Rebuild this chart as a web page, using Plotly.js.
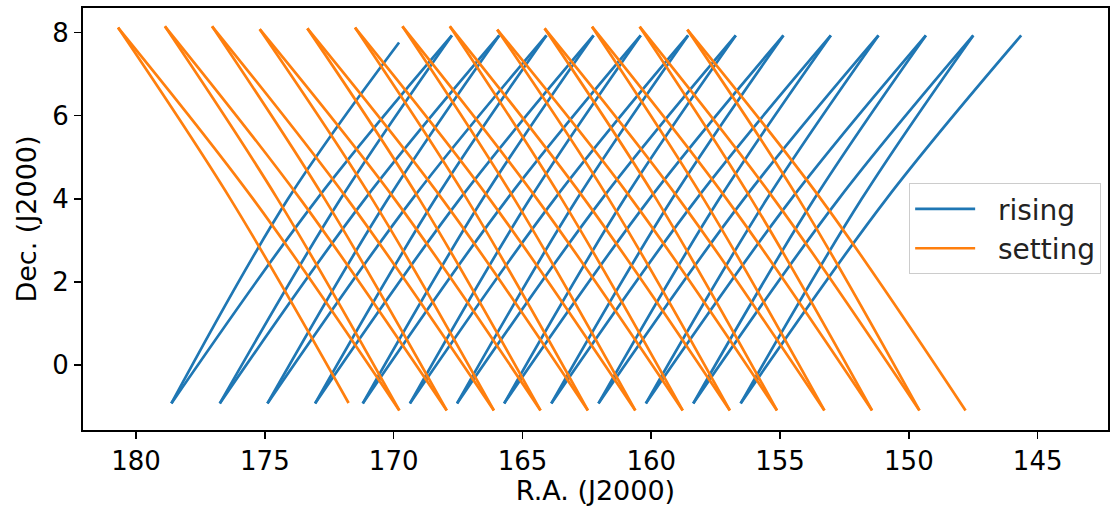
<!DOCTYPE html>
<html><head><meta charset="utf-8">
<script src="https://cdn.plot.ly/plotly-3.0.1.min.js"></script>
<style>html,body{margin:0;padding:0;background:#fff}#chart{width:1111px;height:506px}</style>
</head><body><div id="chart"></div>
<script>
// Dec at which the mid-stroke R.A. values were read
const MID_DEC = 4.0;

// ---- rising (zig-zag: top0 -> bottom0 -> top1 -> bottom1 -> ... -> top13)
const risingTopRA   = [169.79, 167.74, 165.90, 164.07, 162.24, 160.41, 158.57, 156.72, 154.87, 153.03, 151.18, 149.34, 147.50, 145.64];
const risingTopDec  = [7.76, 7.93, 7.93, 7.93, 7.93, 7.93, 7.93, 7.93, 7.93, 7.93, 7.93, 7.93, 7.93, 7.93];
const risingBotRA   = [178.63, 176.75, 174.90, 173.05, 171.20, 169.37, 167.54, 165.71, 163.88, 162.05, 160.21, 158.37, 156.53];
const risingBotDec  = [-0.92, -0.92, -0.92, -0.92, -0.92, -0.92, -0.92, -0.92, -0.92, -0.92, -0.92, -0.92, -0.92];
const risingDownMidRA = [174.10, 172.06, 170.22, 168.38, 166.54, 164.71, 162.88, 161.04, 159.19, 157.36, 155.51, 153.67, 151.83];
const risingUpMidRA   = [172.97, 171.11, 169.27, 167.43, 165.59, 163.75, 161.91, 160.07, 158.24, 156.40, 154.56, 152.72, 150.87];

// ---- setting (zig-zag: bottom0 -> top0 -> bottom1 -> top1 -> ... -> bottom13)
const settingTopRA  = [180.70, 178.88, 177.05, 175.20, 173.35, 171.50, 169.66, 167.82, 165.98, 164.14, 162.30, 160.45, 158.60];
const settingTopDec = [8.12, 8.15, 8.15, 8.08, 8.10, 8.12, 8.15, 8.15, 8.07, 8.10, 8.14, 8.14, 8.07];
const settingBotRA  = [171.75, 169.78, 167.94, 166.11, 164.30, 162.46, 160.62, 158.78, 156.95, 155.12, 153.28, 151.43, 149.59, 147.80];
const settingBotDec = [-0.91, -1.09, -1.09, -1.09, -1.09, -1.09, -1.09, -1.09, -1.09, -1.09, -1.09, -1.09, -1.09, -1.09];
const settingShortMidRA = [176.34, 174.51, 172.68, 170.84, 169.01, 167.16, 165.32, 163.48, 161.65, 159.81, 157.97, 156.12, 154.28];
const settingLongMidRA  = [175.46, 173.63, 171.80, 169.97, 168.12, 166.28, 164.44, 162.60, 160.77, 158.93, 157.08, 155.24, 153.42];

const xTicks = [180, 175, 170, 165, 160, 155, 150, 145];
const yTicks = [0, 2, 4, 6, 8];
const seriesNames = ['rising', 'setting'];

function risingPath() {
  const x = [], y = [];
  for (let i = 0; i < risingBotRA.length; i++) {
    x.push(risingTopRA[i], risingDownMidRA[i], risingBotRA[i], null);
    y.push(risingTopDec[i], MID_DEC, risingBotDec[i], null);
    x.push(risingBotRA[i], risingUpMidRA[i], risingTopRA[i + 1], null);
    y.push(risingBotDec[i], MID_DEC, risingTopDec[i + 1], null);
  }
  return {x, y};
}
function settingPath() {
  const x = [], y = [];
  for (let i = 0; i < settingTopRA.length; i++) {
    x.push(settingBotRA[i], settingShortMidRA[i], settingTopRA[i], null);
    y.push(settingBotDec[i], MID_DEC, settingTopDec[i], null);
    x.push(settingTopRA[i], settingLongMidRA[i], settingBotRA[i + 1], null);
    y.push(settingTopDec[i], MID_DEC, settingBotDec[i + 1], null);
  }
  return {x, y};
}

const TICK_FS = 26, TITLE_FS = 27, LEG_FS = 28;
const pad = '\u00a0\u00a0';
const r = risingPath(), s = settingPath();
const traces = [
  {x: r.x, y: r.y, name: pad + seriesNames[0], mode: 'lines', connectgaps: false,
   line: {color: '#1f77b4', width: 2.7, shape: 'spline', smoothing: 1}},
  {x: s.x, y: s.y, name: pad + seriesNames[1], mode: 'lines', connectgaps: false,
   line: {color: '#ff7f0e', width: 2.7, shape: 'spline', smoothing: 1}}
];

const axisCommon = {
  showgrid: false, zeroline: false, showline: true, mirror: true,
  linecolor: '#000', linewidth: 2, ticks: 'outside', ticklen: 7, tickwidth: 1.6,
  tickcolor: '#000', tickfont: {size: TICK_FS, color: '#000'}
};

const layout = {
  width: 1111, height: 506,
  margin: {l: 83, r: 3, t: 8, b: 76},
  paper_bgcolor: '#fff', plot_bgcolor: '#fff',
  font: {family: 'DejaVu Sans, sans-serif', size: TICK_FS, color: '#000'},
  showlegend: true,
  legend: {x: 0.806, y: 0.585, xanchor: 'left', yanchor: 'top',
           bgcolor: 'rgba(255,255,255,0.8)', bordercolor: '#cccccc', borderwidth: 1,
           font: {size: LEG_FS, color: '#222'}, itemwidth: 60},
  xaxis: Object.assign({}, axisCommon, {
    range: [182.06, 142.27], tickvals: xTicks, ticktext: xTicks.map(String),
    title: {text: 'R.A. (J2000)', font: {size: TITLE_FS, color: '#000'}, standoff: 7}
  }),
  yaxis: Object.assign({}, axisCommon, {
    range: [-1.56, 8.59], tickvals: yTicks, ticktext: yTicks.map(String),
    title: {text: 'Dec. (J2000)', font: {size: TITLE_FS, color: '#000'}, standoff: 8}
  })
};

Plotly.newPlot('chart', traces, layout, {staticPlot: true, displayModeBar: false});
</script>
</body></html>
